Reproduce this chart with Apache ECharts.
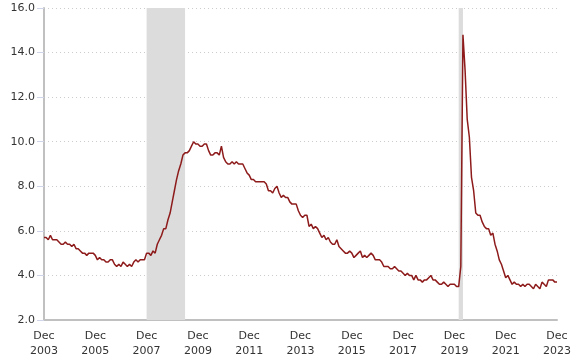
<!DOCTYPE html>
<html><head><meta charset="utf-8">
<script src="https://cdn.jsdelivr.net/npm/echarts@6/dist/echarts.min.js"></script>
<style>html,body{margin:0;padding:0;background:#fff}#c{width:580px;height:364px}</style>
</head><body><div id="c"></div>
<script>
const monthNames = ["Jan","Feb","Mar","Apr","May","Jun","Jul","Aug","Sep","Oct","Nov","Dec"];
const startYear = 2003, startMonth = 11; // Dec 2003
const rates2003 = [5.7];
const rates2004 = [5.7,5.6,5.8,5.6,5.6,5.6,5.5,5.4,5.4,5.5,5.4,5.4];
const rates2005 = [5.3,5.4,5.2,5.2,5.1,5.0,5.0,4.9,5.0,5.0,5.0,4.9];
const rates2006 = [4.7,4.8,4.7,4.7,4.6,4.6,4.7,4.7,4.5,4.4,4.5,4.4];
const rates2007 = [4.6,4.5,4.4,4.5,4.4,4.6,4.7,4.6,4.7,4.7,4.7,5.0];
const rates2008 = [5.0,4.9,5.1,5.0,5.4,5.6,5.8,6.1,6.1,6.5,6.8,7.3];
const rates2009 = [7.8,8.3,8.7,9.0,9.4,9.5,9.5,9.6,9.8,10.0,9.9,9.9];
const rates2010 = [9.8,9.8,9.9,9.9,9.6,9.4,9.4,9.5,9.5,9.4,9.8,9.3];
const rates2011 = [9.1,9.0,9.0,9.1,9.0,9.1,9.0,9.0,9.0,8.8,8.6,8.5];
const rates2012 = [8.3,8.3,8.2,8.2,8.2,8.2,8.2,8.1,7.8,7.8,7.7,7.9];
const rates2013 = [8.0,7.7,7.5,7.6,7.5,7.5,7.3,7.2,7.2,7.2,6.9,6.7];
const rates2014 = [6.6,6.7,6.7,6.2,6.3,6.1,6.2,6.1,5.9,5.7,5.8,5.6];
const rates2015 = [5.7,5.5,5.4,5.4,5.6,5.3,5.2,5.1,5.0,5.0,5.1,5.0];
const rates2016 = [4.8,4.9,5.0,5.1,4.8,4.9,4.8,4.9,5.0,4.9,4.7,4.7];
const rates2017 = [4.7,4.6,4.4,4.4,4.4,4.3,4.3,4.4,4.3,4.2,4.2,4.1];
const rates2018 = [4.0,4.1,4.0,4.0,3.8,4.0,3.8,3.8,3.7,3.8,3.8,3.9];
const rates2019 = [4.0,3.8,3.8,3.7,3.6,3.6,3.7,3.6,3.5,3.6,3.6,3.6];
const rates2020 = [3.5,3.5,4.4,14.8,13.2,11.0,10.2,8.4,7.8,6.8,6.7,6.7];
const rates2021 = [6.4,6.2,6.1,6.1,5.8,5.9,5.4,5.1,4.7,4.5,4.2,3.9];
const rates2022 = [4.0,3.8,3.6,3.7,3.6,3.6,3.5,3.6,3.5,3.6,3.6,3.5];
const rates2023 = [3.4,3.6,3.5,3.4,3.7,3.6,3.5,3.8,3.8,3.8,3.7,3.7];
const yTicks = [2,4,6,8,10,12,14,16];
const recessions = [["Dec 2007","Jun 2009"],["Feb 2020","Apr 2020"]];

const values = [].concat(rates2003,rates2004,rates2005,rates2006,rates2007,rates2008,rates2009,
  rates2010,rates2011,rates2012,rates2013,rates2014,rates2015,rates2016,rates2017,rates2018,
  rates2019,rates2020,rates2021,rates2022,rates2023);
const categories = values.map((v,i)=>{
  const m = startMonth + i;
  return monthNames[m%12] + " " + (startYear + Math.floor(m/12));
});

const chart = echarts.init(document.getElementById('c'), null, {renderer:'canvas'});
chart.setOption({
  animation:false,
  grid:{left:44,right:23,top:8,bottom:44},
  xAxis:{
    type:'category', data:categories, boundaryGap:false,
    axisLine:{lineStyle:{color:'#c0c0c0',width:2}},
    axisTick:{show:false},
    axisLabel:{interval:23, color:'#333', fontFamily:'DejaVu Sans', fontSize:11, lineHeight:15, margin:9,
      formatter:v=>v.replace(' ','\n')},
    splitLine:{show:false}
  },
  yAxis:{
    type:'value', min:yTicks[0], max:yTicks[yTicks.length-1], interval:2,
    axisLine:{show:true,lineStyle:{color:'#c0c0c0',width:2}},
    axisTick:{show:true,length:7,lineStyle:{color:'#d0d4e8'}},
    axisLabel:{color:'#333', fontFamily:'DejaVu Sans', fontSize:11, margin:9, formatter:v=>v.toFixed(1)},
    splitLine:{lineStyle:{color:'#cccccc',type:[1,3]}}
  },
  series:[{
    type:'line', data:values, symbol:'none',
    lineStyle:{color:'#8e1b1b',width:1.5},
    markArea:{silent:true, itemStyle:{color:'#dcdcdc'},
      data:recessions.map(r=>[{xAxis:r[0]},{xAxis:r[1]}])}
  }]
});
</script></body></html>
